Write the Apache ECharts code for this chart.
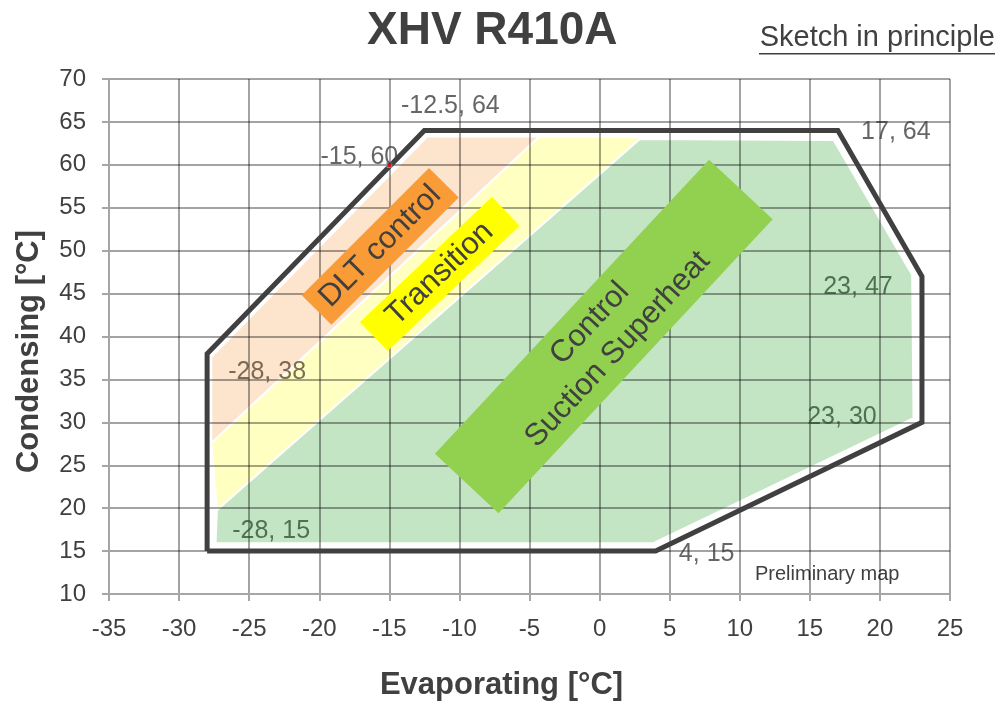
<!DOCTYPE html>
<html lang="en">

<head>
  <meta charset="UTF-8" />
  <title>XHV R410A</title>
  <script src="https://cdn.jsdelivr.net/npm/echarts@6/dist/echarts.min.js"></script>
</head>

<body style="margin: 0; overflow: hidden;">
  <div id="panel" style="width: 996px; height: 702px;"></div>
  <script>
    var FONT = '"Liberation Sans", Arial, sans-serif';
    var TEXT = '#404040';

    // operating envelope corners (evaporating, condensing)
    var envelope = [[-28, 15], [-28, 38], [-12.5, 64], [17, 64], [23, 47], [23, 30], [4, 15]];
    var markedPoint = [[-15, 60]];

    // control zones inside the envelope
    var dltZone = [[-27.7, 27.6], [-27.7, 37.6], [-12.3, 63.3], [-4.3, 63.3]];
    var transitionZone = [[-27.3, 19.8], [-27.7, 27.6], [-4.3, 63.3], [3.0, 63.2]];
    var suctionZone = [[-27.4, 15.9], [-27.3, 19.8], [2.6, 63.0], [16.7, 62.9], [22.3, 47.2], [22.4, 30.5], [3.8, 15.9]];

    // rotated zone captions, centre point
    var dltBox = [[-15.65, 50.5]];
    var transitionBox = [[-11.4, 47.3]];
    var suctionBox = [[0.3, 40.0]];

    var xTicks = { min: -35, max: 25, interval: 5 };
    var yTicks = { min: 10, max: 70, interval: 5 };

    // label placement for each envelope corner (pixels), same order as envelope
    var labelOffsets = [[64, -20], [60, 18], [26, -24], [58, 2], [-64, 11], [-80, -5], [51, 3]];
    var labelColors = ['#2f5533', '#5b4a37', TEXT, TEXT, '#2f5533', '#2f5533', TEXT];

    var myChart = echarts.init(document.getElementById('panel'));

    function zone(name, pts, fill) {
      return {
        type: 'custom',
        name: name,
        z: -1,
        silent: true,
        data: pts,
        renderItem: function (params, api) {
          if (params.dataIndex !== 0) return;
          var points = pts.map(function (p) { return api.coord(p); });
          return {
            type: 'polygon',
            shape: { points: points },
            style: { fill: fill, stroke: '#ffffff', lineWidth: 2 }
          };
        }
      };
    }

    function captionBox(name, pt, w, h, deg, fill, text, lh) {
      return {
        type: 'custom',
        name: name,
        silent: true,
        z: 3,
        data: pt,
        renderItem: function (params, api) {
          var c = api.coord([api.value(0), api.value(1)]);
          return {
            type: 'group',
            x: c[0],
            y: c[1],
            rotation: deg * Math.PI / 180,
            children: [{
              type: 'rect',
              shape: { x: -w / 2, y: -h / 2, width: w, height: h },
              style: { fill: fill }
            }, {
              type: 'text',
              style: {
                text: text, x: 0, y: 0, align: 'center', verticalAlign: 'middle',
                fill: TEXT, font: '31px ' + FONT, lineHeight: lh
              }
            }]
          };
        }
      };
    }

    var option = {
      animation: false,
      title: {
        text: 'XHV R410A',
        left: 362,
        top: 3,
        textStyle: { fontFamily: FONT, fontSize: 46, fontWeight: 'bold', color: TEXT }
      },
      grid: { left: 109, right: 46, top: 79, bottom: 108, outerBoundsMode: 'none', containLabel: false },
      xAxis: {
        type: 'value',
        min: xTicks.min, max: xTicks.max, interval: xTicks.interval,
        name: 'Evaporating [°C]',
        nameLocation: 'middle',
        nameGap: 76,
        nameTextStyle: {
          fontFamily: FONT, fontSize: 31, fontWeight: 'bold', color: TEXT,
          padding: [0, 56, 0, 0]
        },
        axisLine: { onZero: false, lineStyle: { color: '#a6a6a6', width: 2 } },
        axisTick: { show: true, length: 7, lineStyle: { color: '#a6a6a6', width: 2 } },
        axisLabel: { margin: 23, fontFamily: FONT, fontSize: 24, color: TEXT },
        splitLine: { lineStyle: { color: 'rgba(0,0,0,0.36)', width: 2 } }
      },
      yAxis: {
        type: 'value',
        min: yTicks.min, max: yTicks.max, interval: yTicks.interval,
        name: 'Condensing [°C]',
        nameLocation: 'middle',
        nameRotate: 90,
        nameGap: 64,
        nameTextStyle: {
          fontFamily: FONT, fontSize: 31, fontWeight: 'bold', color: TEXT,
          padding: [0, 30, 0, 0]
        },
        axisLine: { show: true, onZero: false, lineStyle: { color: '#a6a6a6', width: 2 } },
        axisTick: { show: true, length: 7, lineStyle: { color: '#a6a6a6', width: 2 } },
        axisLabel: { margin: 23, fontFamily: FONT, fontSize: 24, color: TEXT },
        splitLine: { lineStyle: { color: 'rgba(0,0,0,0.36)', width: 2 } }
      },
      graphic: [{
        type: 'text',
        right: 1,
        top: 23,
        style: { text: 'Sketch in principle', font: '29px ' + FONT, fill: TEXT }
      }, {
        type: 'rect',
        right: 1,
        top: 53,
        shape: { width: 236, height: 1.5 },
        style: { fill: TEXT }
      }, {
        type: 'text',
        left: 755,
        top: 564,
        style: { text: 'Preliminary map', font: '20px ' + FONT, fill: TEXT }
      }],
      series: [
        zone('suction', suctionZone, '#c3e5c3'),
        zone('transition', transitionZone, '#ffffc2'),
        zone('dlt', dltZone, '#fde4cd'),
        {
          type: 'line',
          name: 'envelope',
          z: 4,
          silent: true,
          data: envelope.concat([envelope[0]]),
          symbol: 'none',
          lineStyle: { color: '#404040', width: 5, join: 'miter' }
        },
        {
          type: 'scatter',
          name: 'corners',
          z: 5,
          silent: true,
          symbolSize: 0,
          data: envelope.map(function (p, i) {
            return {
              value: p,
              label: {
                show: true,
                position: 'inside',
                offset: labelOffsets[i],
                formatter: p[0] + ', ' + p[1],
                color: labelColors[i],
                fontFamily: FONT,
                fontSize: 25
              }
            };
          })
        },
        {
          type: 'scatter',
          name: 'marked',
          z: 6,
          silent: true,
          symbol: 'rect',
          symbolSize: 5,
          itemStyle: { color: '#ff0000', borderColor: '#7fb2e0', borderWidth: 1 },
          data: markedPoint,
          label: {
            show: true,
            position: 'inside',
            offset: [-30, -8],
            formatter: function (p) { return p.value[0] + ', ' + p.value[1]; },
            color: TEXT,
            fontFamily: FONT,
            fontSize: 25
          }
        },
        captionBox('dltBox', dltBox, 180, 42, 45, '#f99b36', 'DLT control', 32),
        captionBox('transitionBox', transitionBox, 182, 40, 43.5, '#ffff00', 'Transition', 32),
        captionBox('suctionBox', suctionBox, 402, 87, 47, '#92d050', 'Control\nSuction Superheat', 38)
      ]
    };

    myChart.setOption(option);

    window.addEventListener('resize', function () {
      myChart.resize();
    });
  </script>
</body>

</html>
